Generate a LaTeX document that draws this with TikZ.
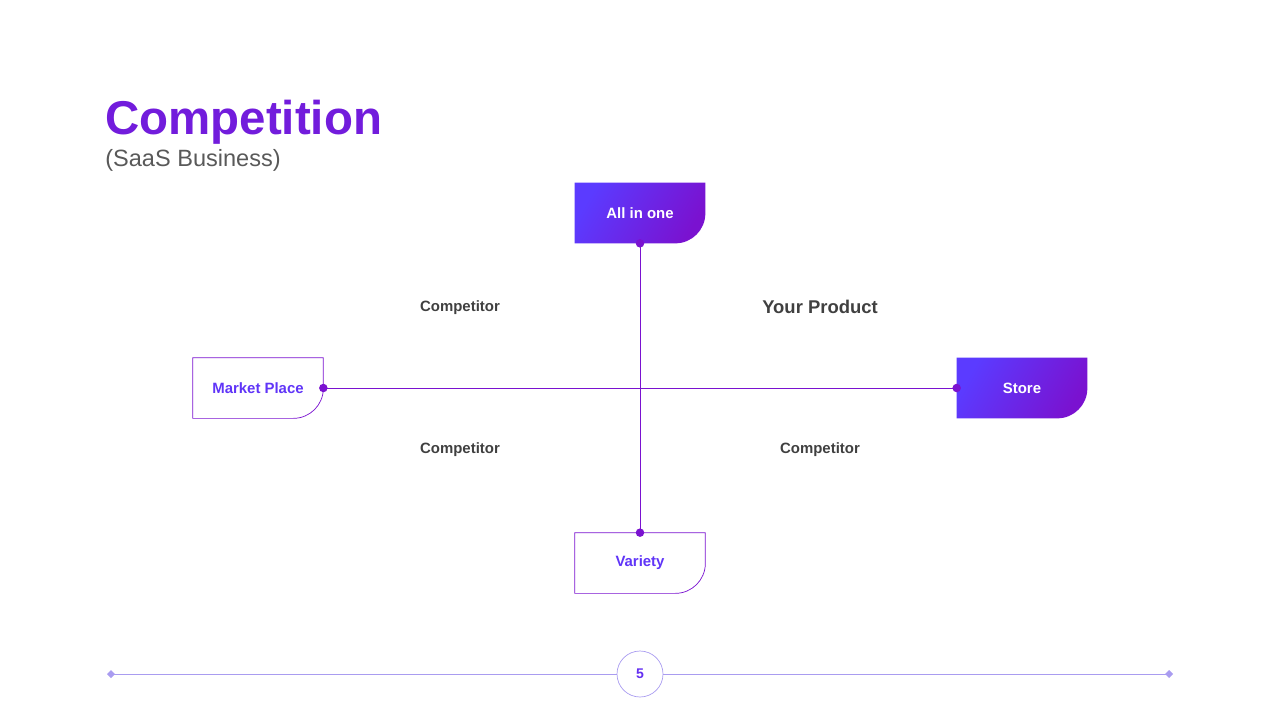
\documentclass[tikz,border=0pt]{standalone}
\usepackage{fontspec}
\setmainfont{Liberation Sans}
\usetikzlibrary{positioning}
\definecolor{cpurple}{HTML}{7A12D0}
\definecolor{cblue}{HTML}{5B3BFF}
\definecolor{clabel}{HTML}{404040}
\definecolor{cline}{HTML}{A99CF0}
\tikzset{
  axisbox/.style={minimum width=2.6cm, minimum height=1.2cm, inner sep=0pt, font=\fontsize{8.5}{10}\selectfont\bfseries},
  quad/.style={font=\fontsize{8.5}{10}\selectfont\bfseries, text=clabel},
  dot/.style={circle, fill=cpurple, inner sep=0pt, minimum size=0.17cm}
}
\newcommand{\boxoutline}[1]{(#1.north west) -- (#1.north east) -- ([yshift=0.6cm]#1.south east) arc[start angle=0, end angle=-90, radius=0.6cm] -- (#1.south west) -- cycle}
\begin{document}
\begin{tikzpicture}[x=0.02cm, y=-0.02cm]
  \useasboundingbox (0,0) rectangle (1280,720);

  % title
  \node [anchor=base west, inner sep=0pt, text=cpurple!75!cblue, font=\fontsize{27}{30}\selectfont\bfseries] (title) at (105,134) {Competition};
  \node [anchor=base west, inner sep=0pt, text=black!65, font=\fontsize{13.4}{15}\selectfont] (subtitle) at (105,166) {(SaaS Business)};

  % axis boxes
  \node [axisbox] (top) at (640,213) {};
  \node [axisbox] (right) at (1022,388) {};
  \node [axisbox] (left) at (258,388) {};
  \node [axisbox] (bottom) at (640,563) {};
  \shade [left color=cblue, right color=cpurple, shading angle=60] \boxoutline{top};
  \shade [left color=cblue, right color=cpurple, shading angle=60] \boxoutline{right};
  \draw [cpurple, thin, fill=white] \boxoutline{left};
  \draw [cpurple, thin, fill=white] \boxoutline{bottom};
  \node [axisbox, text=white] at (top) {All in one};
  \node [axisbox, text=white] at (right) {Store};
  \node [axisbox, text=cblue!85!cpurple] at (left) {Market Place};
  \node [axisbox, text=cblue!85!cpurple] at (bottom) {Variety};

  % axes
  \draw [cpurple, thin] (top.south) -- (bottom.north);
  \draw [cpurple, thin] (left.east) -- (right.west);
  \foreach \a/\p in {top/south, bottom/north, left/east, right/west} {
    \node [dot] at (\a.\p) {};
  }

  % quadrant labels
  \node [quad] (q1) at (460,308) {Competitor};
  \node [quad, font=\fontsize{10.5}{12}\selectfont\bfseries] (q2) at (820,307) {Your Product};
  \node [quad] (q3) at (460,450) {Competitor};
  \node [quad] (q4) at (820,450) {Competitor};

  % footer
  \node [circle, draw=cline, thin, minimum size=0.92cm, inner sep=0pt, text=cblue!70!cpurple, font=\fontsize{8}{10}\selectfont\bfseries] (page) at (640,674) {5};
  \coordinate (fl) at (111,674);
  \coordinate (fr) at (1169,674);
  \draw [cline, thin] (fl) -- (page) -- (fr);
  \foreach \c in {fl, fr} {
    \fill [cline] (\c) ++(-4,0) -- ++(4,-4) -- ++(4,4) -- ++(-4,4) -- cycle;
  }
\end{tikzpicture}
\end{document}
